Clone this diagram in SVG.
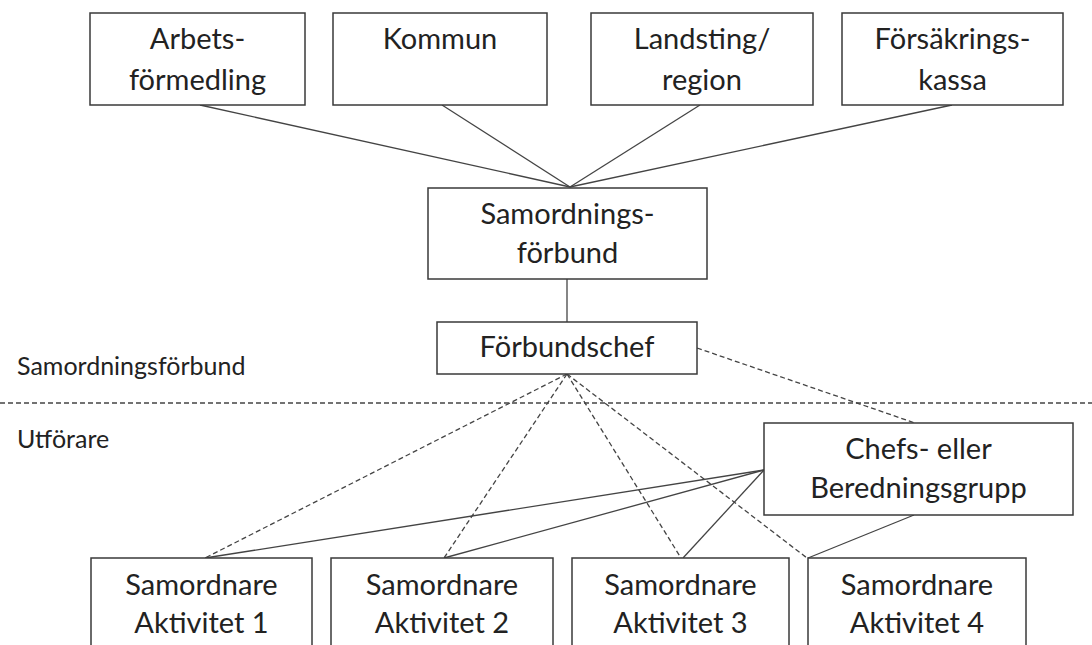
<svg xmlns="http://www.w3.org/2000/svg" width="1092" height="645" viewBox="0 0 1092 645">
<style>
.box{fill:#fff;stroke:#3a3a3a;stroke-width:1.5}
.t{font-family:Lato,"Open Sans",sans-serif;font-size:29px;fill:#222;text-anchor:middle}
.lbl{font-family:Lato,"Open Sans",sans-serif;font-size:25px;fill:#222}
.s{stroke:#444;stroke-width:1.3;fill:none}
.d{stroke:#444;stroke-width:1.3;fill:none;stroke-dasharray:5 3}
</style>
<rect width="1092" height="645" fill="#fff"/>
<g id="connectors">
<line class="s" x1="200" y1="105" x2="570" y2="187"/>
<line class="s" x1="442" y1="105" x2="570" y2="187"/>
<line class="s" x1="700" y1="105" x2="570" y2="187"/>
<line class="s" x1="952" y1="105" x2="570" y2="187"/>
<line class="s" x1="567" y1="279" x2="567" y2="322"/>
<line class="d" x1="0" y1="403" x2="1092" y2="403"/>
<line class="d" x1="697" y1="348" x2="915" y2="423"/>
<line class="d" x1="567" y1="374" x2="205" y2="558"/>
<line class="d" x1="567" y1="374" x2="444" y2="558"/>
<line class="d" x1="567" y1="374" x2="681" y2="558"/>
<line class="d" x1="567" y1="374" x2="807" y2="558"/>
<line class="s" x1="764" y1="470" x2="205" y2="558"/>
<line class="s" x1="764" y1="470" x2="444" y2="558"/>
<line class="s" x1="764" y1="470" x2="683" y2="558"/>
<line class="s" x1="914" y1="515" x2="808" y2="558"/>
</g>
<g id="arbetsformedling"><rect class="box" x="90" y="13" width="215" height="92"/><text class="t" x="197.5" y="49">Arbets-</text><text class="t" x="197.5" y="90">förmedling</text></g>
<g id="kommun"><rect class="box" x="333" y="13" width="214" height="92"/><text class="t" x="440" y="49">Kommun</text></g>
<g id="landsting"><rect class="box" x="591" y="13" width="222" height="92"/><text class="t" x="702" y="49">Landsting/</text><text class="t" x="702" y="90">region</text></g>
<g id="forsakringskassa"><rect class="box" x="842" y="13" width="221" height="92"/><text class="t" x="952.5" y="49">Försäkrings-</text><text class="t" x="952.5" y="90">kassa</text></g>
<g id="samordningsforbund"><rect class="box" x="428" y="188" width="279" height="91"/><text class="t" x="567.5" y="224">Samordnings-</text><text class="t" x="567.5" y="263">förbund</text></g>
<g id="forbundschef"><rect class="box" x="437" y="322" width="260" height="52"/><text class="t" x="567" y="357">Förbundschef</text></g>
<g id="labels"><text class="lbl" x="17" y="375">Samordningsförbund</text><text class="lbl" x="17" y="448">Utförare</text></g>
<g id="chefsgrupp"><rect class="box" x="764" y="423" width="309" height="92"/><text class="t" x="918.5" y="459">Chefs- eller</text><text class="t" x="918.5" y="498">Beredningsgrupp</text></g>
<g id="aktivitet1"><rect class="box" x="91" y="558" width="221" height="100"/><text class="t" x="201.5" y="595">Samordnare</text><text class="t" x="201.5" y="633">Aktivitet 1</text></g>
<g id="aktivitet2"><rect class="box" x="331" y="558" width="222" height="100"/><text class="t" x="442" y="595">Samordnare</text><text class="t" x="442" y="633">Aktivitet 2</text></g>
<g id="aktivitet3"><rect class="box" x="572" y="558" width="217" height="100"/><text class="t" x="680.5" y="595">Samordnare</text><text class="t" x="680.5" y="633">Aktivitet 3</text></g>
<g id="aktivitet4"><rect class="box" x="808" y="558" width="218" height="100"/><text class="t" x="917" y="595">Samordnare</text><text class="t" x="917" y="633">Aktivitet 4</text></g>
</svg>
